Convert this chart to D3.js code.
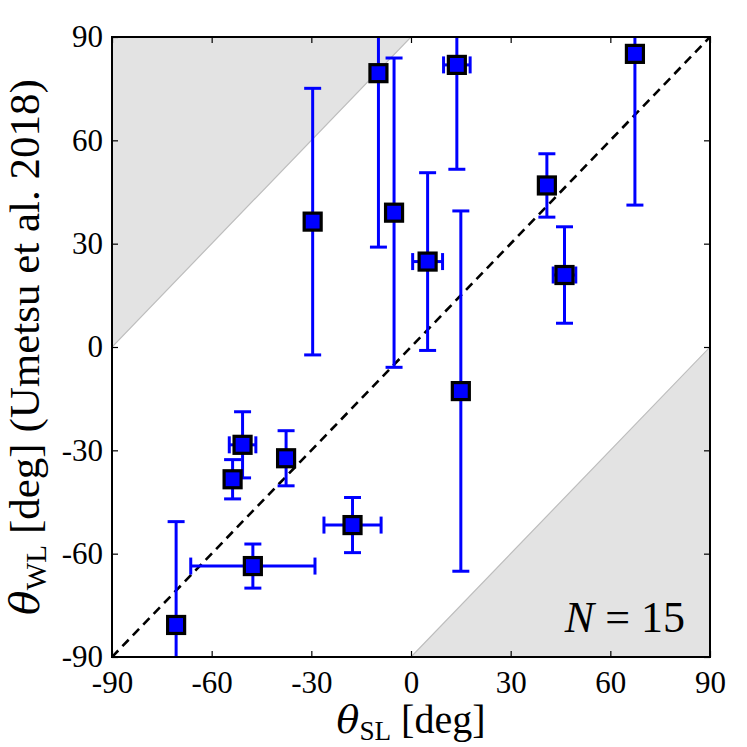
<!DOCTYPE html>
<html>
<head>
<meta charset="utf-8">
<script src="https://cdn.jsdelivr.net/npm/d3@7"></script>
<style>
  body { margin: 0; background: #fff; }
</style>
</head>
<body>
<svg id="chart" width="747" height="747"></svg>
<script>
// position angles: strong lensing (x) vs weak lensing (y), degrees
const thetaSL  = [-70.7, -47.6, -17.6, -53.7, -50.7, -37.6, -29.6, -9.8, -5.1, 5.0, 13.8, 15.0, 40.9, 46.2, 67.4];
const thetaWL  = [-80.7, -63.6, -51.7, -38.4, -28.4, -32.3, 36.4, 79.5, 39.0, 24.8, 81.9, -12.8, 46.9, 20.9, 85.1];
const errSL    = [0, 18.7, 8.6, 1.2, 4.0, 1.0, 1.5, 0.5, 0.5, 4.5, 4.0, 0.5, 1.0, 3.4, 0.5];
const errWL    = [30.0, 6.4, 8.0, 5.7, 9.6, 8.0, 38.7, 50.5, 44.9, 25.8, 30.3, 52.3, 9.2, 14.0, 43.9];
const ticks    = [-90, -60, -30, 0, 30, 60, 90];
const domain   = [-90, 90];

const SERIF = "Liberation Serif";
const GREEK = "DejaVu Serif";

const pts = thetaSL.map((x, i) => ({x, y: thetaWL[i], ex: errSL[i], ey: errWL[i]}));

const W = 747, H = 747;
const m = {left: 112, top: 37, right: 37, bottom: 90};
const iw = W - m.left - m.right, ih = H - m.top - m.bottom;

const svg = d3.select("#chart");
const x = d3.scaleLinear().domain(domain).range([0, iw]);
const y = d3.scaleLinear().domain(domain).range([ih, 0]);

svg.append("defs").append("clipPath").attr("id", "clip")
  .append("rect").attr("width", iw).attr("height", ih);

const g = svg.append("g").attr("transform", `translate(${m.left},${m.top})`);
const plot = g.append("g").attr("clip-path", "url(#clip)");

// excluded regions (|dtheta| > 90)
const upper = [[-90, 0], [0, 90], [-90, 90]];
const lower = [[0, -90], [90, 0], [90, -90]];
plot.selectAll("path.shade").data([upper, lower]).enter().append("path")
  .attr("class", "shade")
  .attr("d", d => d3.line().x(p => x(p[0])).y(p => y(p[1]))(d) + "Z")
  .attr("fill", "#e3e3e3").attr("stroke", "#bdbdbd").attr("stroke-width", 1.2);

// one-to-one line
plot.append("path")
  .attr("d", d3.line().x(p => x(p[0])).y(p => y(p[1]))([[-90, -90], [90, 90]]))
  .attr("stroke", "#000").attr("stroke-width", 2.6).attr("stroke-dasharray", "9,6").attr("fill", "none");

// error bars
const cap = 8.5;
const eb = plot.append("g").attr("stroke", "#0000ff").attr("stroke-width", 3).attr("fill", "none");
pts.forEach(d => {
  eb.append("line").attr("x1", x(d.x)).attr("x2", x(d.x)).attr("y1", y(d.y - d.ey)).attr("y2", y(d.y + d.ey));
  eb.append("line").attr("x1", x(d.x) - cap).attr("x2", x(d.x) + cap).attr("y1", y(d.y - d.ey)).attr("y2", y(d.y - d.ey));
  eb.append("line").attr("x1", x(d.x) - cap).attr("x2", x(d.x) + cap).attr("y1", y(d.y + d.ey)).attr("y2", y(d.y + d.ey));
  if (d.ex > 0) {
    eb.append("line").attr("x1", x(d.x - d.ex)).attr("x2", x(d.x + d.ex)).attr("y1", y(d.y)).attr("y2", y(d.y));
    eb.append("line").attr("x1", x(d.x - d.ex)).attr("x2", x(d.x - d.ex)).attr("y1", y(d.y) - cap).attr("y2", y(d.y) + cap);
    eb.append("line").attr("x1", x(d.x + d.ex)).attr("x2", x(d.x + d.ex)).attr("y1", y(d.y) - cap).attr("y2", y(d.y) + cap);
  }
});

// markers
const s = 17;
plot.selectAll("rect.pt").data(pts).enter().append("rect")
  .attr("class", "pt")
  .attr("x", d => x(d.x) - s / 2).attr("y", d => y(d.y) - s / 2)
  .attr("width", s).attr("height", s)
  .attr("fill", "#0000ff").attr("stroke", "#000").attr("stroke-width", 3.2);

// axes: ticks inside on all four sides, labels only bottom/left
const tl = 6;
const fmt = d => d < 0 ? "-" + Math.abs(d) : String(d);
const bx = g.append("g").attr("transform", `translate(0,${ih})`)
  .call(d3.axisBottom(x).tickValues(ticks).tickSize(-tl).tickPadding(14).tickFormat(fmt));
const ly = g.append("g").call(d3.axisLeft(y).tickValues(ticks).tickSize(-tl).tickPadding(9).tickFormat(fmt));
g.append("g").call(d3.axisTop(x).tickValues(ticks).tickSize(-tl).tickFormat(""));
g.append("g").attr("transform", `translate(${iw},0)`)
  .call(d3.axisRight(y).tickValues(ticks).tickSize(-tl).tickFormat(""));
g.selectAll(".domain").remove();
g.selectAll(".tick line").attr("stroke", "#000").attr("stroke-width", 1.2);
[bx, ly].forEach(a => a.attr("font-family", SERIF).selectAll(".tick text")
  .attr("font-size", 31).attr("font-family", SERIF).attr("fill", "#000"));

g.append("rect").attr("width", iw).attr("height", ih)
  .attr("fill", "none").attr("stroke", "#000").attr("stroke-width", 2);

// labels
function axisLabel(sel, size, sub, rest) {
  sel.attr("font-family", SERIF).attr("font-size", size).attr("text-anchor", "middle").attr("fill", "#000");
  sel.append("tspan").attr("font-family", GREEK).attr("font-style", "italic").attr("font-size", size * 0.95).text("θ");
  sel.append("tspan").attr("font-size", size * 0.68).attr("dy", 7).text(sub);
  sel.append("tspan").attr("dy", -7).text(rest);
}
axisLabel(svg.append("text").attr("x", m.left + iw / 2).attr("y", 733), 40, "SL", " [deg]");
axisLabel(svg.append("text").attr("transform", `translate(39,${m.top + ih / 2}) rotate(-90)`),
  43, "WL", " [deg] (Umetsu et al. 2018)");

const nt = svg.append("text").attr("x", 685).attr("y", 632)
  .attr("text-anchor", "end").attr("font-size", 44).attr("font-family", SERIF).attr("fill", "#000");
nt.append("tspan").attr("font-style", "italic").text("N");
nt.append("tspan").text(" = 15");
</script>
</body>
</html>
